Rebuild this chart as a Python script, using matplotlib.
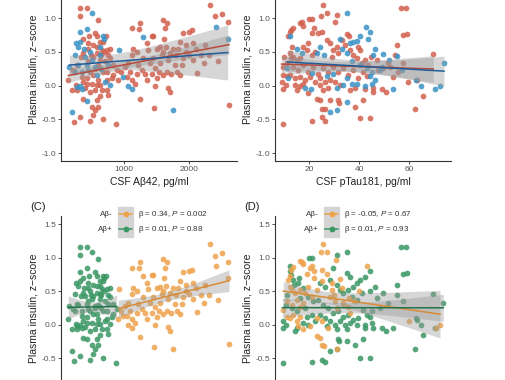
import numpy as np
import matplotlib
matplotlib.use("Agg")
import matplotlib.pyplot as plt
from matplotlib.lines import Line2D
from matplotlib.patches import Rectangle

plt.rcParams['font.family'] = ['Liberation Sans', 'DejaVu Sans']
plt.rcParams['mathtext.fontset'] = 'custom'
plt.rcParams['mathtext.it'] = 'Liberation Sans:italic'
plt.rcParams['mathtext.rm'] = 'Liberation Sans'

# ---------------- data: CSF Abeta42 panels (A, C) ----------------
ab_red_x = [323, 436, 323, 595, 2323, 2400, 2503, 2595, 2615, 2450, 2118,
            2005, 2040, 1900, 2067, 2000, 2067, 1862, 1836, 1913, 1887, 1785,
            1810, 1862, 1708, 1682, 1605, 1656, 1630, 1620, 1646, 1580, 1554,
            1656, 1682, 1708, 1462, 1451, 1426, 1349, 1374, 1451, 1400, 1477,
            1246, 1349, 1503, 1477, 1246, 1236, 1118, 1144, 1195, 1118, 1297,
            1220, 1272, 1067, 1015, 1092, 1041, 1169, 1118, 877, 887, 836, 913,
            733, 759, 682, 579, 605, 503, 554, 528, 477, 364, 400, 323, 231,
            272, 195, 262, 144, 554, 579, 467, 374, 451, 528, 579, 631, 682,
            723, 656, 733, 579, 528, 631, 708, 451, 374, 272, 221, 349, 426,
            528, 605, 503, 579, 631, 656, 426, 374, 554, 477, 631, 810, 733,
            836, 785, 682, 733, 338, 1200, 1330, 1430, 1540, 1600, 1720, 1760,
            2180, 2230, 1960, 960, 1560,
            600, 650, 700, 450, 500, 550, 480, 620, 760, 790, 1800, 2100, 2250,
            1500, 1600, 2300, 1950]
ab_red_y = [1.16, 1.16, 1.04, 0.98, 1.20, 1.03, 1.07, 0.94, -0.29, 0.37, 0.19,
            0.80, 0.82, 0.78, 0.63, 0.46, 0.38, 0.65, 0.55, 0.41, 0.31, 0.31,
            0.21, 0.16, 0.48, 0.38, 0.98, 0.93, 0.85, 0.70, 0.58, 0.46, 0.33,
            0.21, -0.04, -0.09, -0.33, 0.74, 0.74, 0.63, 0.53, 0.41, 0.33, 0.26,
            -0.19, 0.08, 0.11, -0.01, 0.93, 0.84, 0.85, 0.55, 0.50, 0.46, 0.41,
            0.31, 0.23, 0.33, 0.28, 0.21, 0.13, 0.03, 0.08, -0.57, 0.23, 0.16, 0.08,
            -0.06, -0.14, -0.49, -0.21, -0.31, -0.31, -0.36, -0.44, -0.52, -0.20,
            -0.04, -0.47, -0.54, -0.06, -0.06, 0.01, 0.08, 0.78, 0.73, 0.73, 0.69,
            0.63, 0.60, 0.58, 0.65, 0.65, 0.73, 0.53, 0.53, 0.48, 0.43, 0.38, 0.36,
            0.36, 0.48, 0.31, 0.23, 0.13, 0.11, 0.16, 0.08, 0.03, 0.01, 0.01, -0.06,
            0.03, 0.06, -0.06, -0.09, -0.16, 0.11, 0.08, 0.31, 0.41, 0.21, 0.21,
            0.43, 0.18, 0.18, 0.18, 0.21, 0.16, 0.18, 0.55, 0.45, 0.33, 0.50,
            0.20, 0.57,
            0.30, 0.45, 0.50, 0.55, 0.45, 0.25, 0.20, 0.28, 0.45, 0.55, 0.45,
            0.55, 0.60, 0.55, 0.50, 0.45, 0.60]
ab_blue_x = [2415, 2595, 1749, 1287, 928, 990, 1067, 1118, 785, 436, 195, 282,
             323, 349, 159, 503, 426, 323, 262, 297, 323, 246, 400, 426, 349,
             503, 451, 682, 692, 631, 631, 759, 579, 300, 380, 250, 470, 560,
             710, 650]
ab_blue_y = [0.87, 0.69, -0.36, 0.72, 0.53, 0.13, -0.01, -0.05, 0.01, -0.22,
             -0.39, -0.02, -0.01, -0.05, 0.28, 1.08, 0.84, 0.79, 0.63, 0.58,
             0.65, 0.46, 0.43, 0.31, 0.21, 0.38, 0.23, 0.73, 0.69, 0.58, 0.46,
             0.31, 0.16, 0.30, 0.55, 0.20, 0.50, 0.28, 0.05, 0.25]
AB42_CUTOFF = 900  # Abeta+ below this value

# ---------------- data: CSF pTau181 panel B ----------------
pt_red_x = [25.3, 24.5, 27.2, 31.2, 30.3, 56.5, 58.7, 20.0, 20.9, 16.3, 17.0,
            17.6, 13.6, 12.8, 12.3, 11.6, 22.0, 21.0, 24.9, 23.6, 34.9, 35.9,
            58.9, 57.3, 55.0, 54.3, 69.6, 57.6, 51.6, 49.6, 52.3, 46.9, 47.6,
            41.6, 42.9, 42.3, 45.3, 45.3, 48.9, 50.7, 59.6, 62.9, 65.3, 62.3,
            38.3, 40.3, 44.3, 41.6, 31.6, 32.0, 28.3, 24.9, 26.3, 24.9, 26.3,
            20.9, 9.6, 24.3, 22.9, 8.9, 9.3, 10.9, 10.7, 14.3, 14.9, 16.3, 17.6,
            19.6, 24.3, 25.6, 27.6, 13.6, 14.9, 16.3, 12.3, 13.0, 17.6, 18.9,
            19.6, 20.9, 22.3, 26.9, 28.3, 29.6, 28.9, 31.0, 33.0, 31.6, 34.3,
            36.3, 37.6, 39.0, 40.3, 39.6, 13.6, 15.6, 17.6, 19.6, 21.6, 23.6,
            25.6, 27.6, 12.3, 14.3, 16.3, 18.3, 20.3, 22.3, 24.3, 26.3, 28.3,
            29.6, 31.6, 33.6, 35.6, 37.6, 39.6, 30.3, 32.3, 36.3, 38.3, 10.9,
            9.9, 12.6, 9.6, 9.6, 42.3, 43.6, 44.6, 40.9, 53.6, 55.6]
pt_red_y = [1.20, 1.04, 1.08, 1.05, 0.95, 1.15, 1.15, 0.99, 0.99, 0.93, 0.94,
            0.89, 0.86, 0.83, 0.80, 0.73, 0.85, 0.78, 0.79, 0.78, 0.76, 0.73,
            0.76, 0.75, 0.60, 0.46, 0.47, 0.33, 0.33, 0.26, 0.28, 0.38, 0.24,
            0.21, 0.14, -0.05, -0.04, -0.10, -0.05, -0.09, 0.06, 0.08, -0.15,
            -0.35, -0.31, -0.48, -0.48, -0.21, -0.21, -0.26, -0.21, -0.34, -0.34,
            -0.46, -0.53, -0.53, -0.57, -0.21, -0.19, 0.06, -0.05, 0.14, 0.01,
            0.01, -0.06, -0.01, 0.03, -0.11, 0.01, -0.06, -0.04, 0.43, 0.38, 0.41,
            0.48, 0.58, 0.58, 0.53, 0.63, 0.46, 0.50, 0.68, 0.63, 0.53, 0.43,
            0.58, 0.68, 0.48, 0.60, 0.53, 0.46, 0.41, 0.53, 0.58, 0.28, 0.23,
            0.31, 0.21, 0.28, 0.18, 0.26, 0.21, 0.16, 0.11, 0.13, 0.08, 0.13,
            0.06, 0.11, 0.06, 0.08, 0.28, 0.21, 0.26, 0.16, 0.23, 0.12, 0.06,
            0.01, -0.06, -0.04, 0.33, 0.43, 0.41, 0.28, 0.16, 0.38, 0.31, 0.43,
            0.33, 0.13, 0.21]
pt_blue_x = [34.9, 12.3, 42.7, 44.3, 40.3, 39.0, 37.6, 55.0, 43.6, 46.3, 45.6,
             49.6, 73.9, 48.9, 48.3, 44.9, 44.3, 46.3, 42.3, 44.9, 39.2, 53.3,
             62.5, 64.5, 70.3, 72.3, 34.9, 31.2, 28.3, 30.9, 11.6, 18.3, 20.7,
             14.9, 16.9, 22.9, 24.3, 25.9, 32.3, 33.0, 34.9, 36.3, 37.0, 21.0,
             26.9, 29.6, 34.9, 36.9, 33.6, 11.2, 40.3, 42.9, 52.0, 56.9]
pt_blue_y = [1.08, 0.74, 0.87, 0.80, 0.73, 0.67, 0.65, 0.44, 0.69, 0.55, 0.46,
             0.47, 0.33, 0.28, 0.23, 0.21, 0.14, 0.09, 0.00, 0.03, 0.03, -0.05,
             0.08, 0.00, -0.05, 0.00, -0.24, -0.36, -0.39, -0.04, 0.11, -0.04,
             -0.05, 0.55, 0.48, 0.48, 0.58, 0.46, 0.69, 0.54, 0.48, 0.63, 0.36,
             0.19, 0.14, 0.17, 0.11, 0.03, 0.01, 0.26, 0.31, 0.26, 0.38, 0.23]

# ---------------- data: CSF pTau181 panel D (by amyloid status) ----------------
pt_neg_x = [25.3, 24.5, 27.2, 30.7, 16.3, 17.0, 17.6, 20.9, 20.3, 13.6, 12.8,
            22.0, 24.9, 12.3, 11.6, 32.3, 42.9, 12.3, 13.0, 14.3, 16.3, 18.3,
            19.6, 20.9, 22.9, 10.9, 13.0, 14.9, 16.3, 17.6, 9.6, 10.9, 12.3,
            13.6, 14.9, 16.3, 15.6, 17.6, 22.9, 24.9, 22.9, 24.3, 24.9, 25.9,
            31.2, 33.6, 35.6, 36.3, 28.3, 28.9, 30.3, 60.0, 70.7, 72.3, 27.6,
            20.3,
            30.0, 33.0, 36.0, 38.0, 40.0, 34.0, 29.0, 31.0, 27.0, 25.0, 22.0,
            19.0]
pt_neg_y = [1.21, 1.09, 1.09, 0.96, 0.95, 0.93, 0.90, 0.88, 0.85, 0.86, 0.82,
            0.80, 0.81, 0.73, 0.67, 0.68, 0.87, 0.57, 0.52, 0.47, 0.52, 0.47,
            0.57, 0.42, 0.52, 0.35, 0.30, 0.37, 0.27, 0.32, 0.22, 0.12, 0.10,
            0.15, 0.05, 0.12, -0.02, -0.07, 0.10, 0.05, -0.17, -0.20, -0.30,
            -0.32, -0.36, 0.32, 0.27, 0.17, 0.42, 0.52, 0.35, 0.05, -0.05, 0.00,
            -0.05, -0.02,
            0.45, 0.55, 0.40, 0.35, 0.50, 0.30, 0.62, 0.25, 0.75, 0.65, 0.70,
            0.75]
pt_pos_x = [34.9, 56.5, 58.7, 31.2, 29.3, 42.3, 44.3, 34.9, 36.3, 40.3, 39.0,
            37.6, 44.3, 46.3, 55.0, 55.0, 58.9, 57.3, 69.6, 73.6, 49.6, 51.6,
            57.6, 46.9, 48.3, 44.9, 44.3, 41.6, 42.9, 42.3, 44.9, 45.3, 42.3,
            48.9, 50.7, 53.3, 62.9, 62.5, 64.5, 65.3, 62.3, 70.3, 38.3, 41.6,
            40.3, 44.3, 34.9, 31.2, 28.3, 31.6, 32.0, 24.9, 26.3, 20.9, 9.6,
            9.3, 9.3, 10.7, 14.3, 14.9, 17.6, 19.6, 12.3, 24.3, 26.3, 28.3,
            30.9, 32.3, 33.6, 35.6, 36.9, 39.0, 41.0, 23.6, 25.6, 27.6, 29.6,
            31.6, 33.6, 35.6, 37.6, 39.6, 36.3, 34.3, 32.3, 30.3, 28.3, 26.3,
            24.3, 22.3, 26.9, 30.9, 34.9, 39.0, 13.6, 15.6, 17.6, 19.6, 21.6,
            16.3, 18.3, 13.0, 14.9, 18.9, 20.9,
            20.0, 20.9, 12.3, 12.8, 14.0, 16.0, 11.0, 10.5]
pt_pos_y = [1.09, 1.16, 1.16, 1.04, 0.85, 0.71, 0.80, 0.77, 0.71, 0.67, 0.62,
            0.57, 0.50, 0.57, 0.60, 0.45, 0.77, 0.75, 0.46, 0.32, 0.47, 0.32,
            0.35, 0.40, 0.25, 0.20, 0.12, 0.22, 0.15, 0.00, 0.02, -0.05, -0.05,
            -0.05, -0.10, -0.05, 0.07, 0.10, 0.00, -0.15, -0.36, -0.05, -0.30,
            -0.22, -0.50, -0.50, -0.25, -0.37, -0.40, -0.22, -0.25, -0.53, -0.55,
            -0.55, -0.57, 0.05, -0.05, 0.00, -0.10, -0.05, 0.02, 0.00, 0.80,
            0.62, 0.57, 0.67, 0.60, 0.52, 0.47, 0.52, 0.42, 0.37, 0.47, 0.37,
            0.30, 0.25, 0.17, 0.20, 0.12, 0.15, 0.07, 0.10, 0.02, 0.00, 0.05,
            0.00, 0.05, 0.10, 0.15, 0.05, -0.02, -0.07, -0.07, 0.00, 0.67, 0.62,
            0.55, 0.42, 0.35, 0.40, 0.25, 0.25, 0.20, 0.12, 0.15,
            0.99, 0.99, 0.87, 0.74, 0.60, 0.70, 0.45, 0.30]

# ---------------- text ----------------
y_label = "Plasma insulin, z\u2212score"
x_label_ab = "CSF A\u03b242, pg/ml"
x_label_pt = "CSF pTau181, pg/ml"
status_labels = ["A\u03b2-", "A\u03b2+"]
stats_c = [r"β = 0.34, $\mathit{P}$ = 0.002", r"β = 0.01, $\mathit{P}$ = 0.88"]
stats_d = [r"β = -0.05, $\mathit{P}$ = 0.67", r"β = 0.01, $\mathit{P}$ = 0.93"]
y_ticks_top = [-1.0, -0.5, 0.0, 0.5, 1.0]
y_ticks_bottom = [-0.5, 0.0, 0.5, 1.0, 1.5]

RED, BLUE = "#d2604e", "#3a93c6"
RED_L, BLUE_L = "#b84a3c", "#1f5c99"
ORANGE, GREEN = "#eea24c", "#3a9764"
ORANGE_L, GREEN_L = "#d98b36", "#23744a"

W, H = 505, 380
fig = plt.figure(figsize=(W / 100, H / 100), dpi=100)


def px_axes(left, right, top, bottom):
    return fig.add_axes([left / W, 1 - bottom / H, (right - left) / W, (bottom - top) / H])


def style(ax, xlim, xticks, yticks, xlabels=True):
    ax.set_xlim(*xlim)
    ax.set_ylim(-1.12, 1.62)
    ax.set_xticks(xticks)
    if not xlabels:
        ax.set_xticklabels([])
    ax.set_yticks(yticks)
    ax.set_yticklabels([f"{t:.1f}" for t in yticks])
    for s in ("top", "right"):
        ax.spines[s].set_visible(False)
    for s in ("left", "bottom"):
        ax.spines[s].set_color("#333333")
        ax.spines[s].set_linewidth(0.8)
    ax.tick_params(length=2, width=0.6, color="#333333", labelsize=6,
                   labelcolor="#555555", pad=1.5)
    ax.set_ylabel(y_label, fontsize=7.5, color="#222222", labelpad=2)


def scatter(ax, x, y, c):
    ax.scatter(x, y, s=17, color=c, alpha=0.85, linewidths=0, zorder=2)


def fit(ax, x, y, c):
    x = np.asarray(x, float)
    y = np.asarray(y, float)
    b, a = np.polyfit(x, y, 1)
    xs = np.linspace(x.min(), x.max(), 80)
    yh = a + b * xs
    n = len(x)
    s = np.sqrt(np.sum((y - (a + b * x)) ** 2) / (n - 2))
    se = s * np.sqrt(1 / n + (xs - x.mean()) ** 2 / np.sum((x - x.mean()) ** 2))
    ax.fill_between(xs, yh - 1.98 * se, yh + 1.98 * se, color="#999999",
                    alpha=0.4, linewidth=0, zorder=3)
    ax.plot(xs, yh, color=c, lw=1.1, zorder=4)


def legend(ax, stats, x0):
    ax.add_patch(Rectangle((x0, 0.885), 0.085, 0.165, transform=ax.transAxes,
                           color="#d4d4d4", clip_on=False, zorder=5))
    for (lab, st, col, yy) in zip(status_labels, stats, [ORANGE, GREEN], [1.01, 0.93]):
        ax.add_line(Line2D([x0 + 0.005, x0 + 0.08], [yy, yy], transform=ax.transAxes,
                           color=col, lw=1.1, zorder=6, clip_on=False))
        ax.add_line(Line2D([x0 + 0.0425], [yy], transform=ax.transAxes, marker="o",
                           ms=4.2, color=col, mew=0, zorder=6, clip_on=False))
        ax.text(x0 - 0.03, yy, lab, transform=ax.transAxes, ha="right", va="center",
                fontsize=5.8, color="#333333", zorder=6)
        ax.text(x0 + 0.11, yy, st, transform=ax.transAxes, ha="left", va="center",
                fontsize=5.8, color="#333333", zorder=6)


# Panel A
axA = px_axes(61, 237, -23.5, 161.2)
style(axA, (31, 2738), [1000, 2000], y_ticks_top)
scatter(axA, ab_red_x, ab_red_y, RED)
scatter(axA, ab_blue_x, ab_blue_y, BLUE)
fit(axA, ab_red_x, ab_red_y, RED_L)
fit(axA, ab_blue_x, ab_blue_y, BLUE_L)
axA.set_xlabel(x_label_ab, fontsize=7.5, color="#222222", labelpad=3)

# Panel B
axB = px_axes(275, 451, -23.5, 161.2)
style(axB, (6.3, 76.7), [20, 40, 60], y_ticks_top)
scatter(axB, pt_red_x, pt_red_y, RED)
scatter(axB, pt_blue_x, pt_blue_y, BLUE)
fit(axB, pt_red_x, pt_red_y, RED_L)
fit(axB, pt_blue_x, pt_blue_y, BLUE_L)
axB.set_xlabel(x_label_pt, fontsize=7.5, color="#222222", labelpad=3)

# Panel C
all_ab_x = np.array(ab_red_x + ab_blue_x, float)
all_ab_y = np.array(ab_red_y + ab_blue_y, float)
pos = all_ab_x < AB42_CUTOFF
axC = px_axes(61, 237, 216.2, 399.7)
style(axC, (31, 2738), [1000, 2000], y_ticks_bottom, xlabels=False)
scatter(axC, all_ab_x[pos], all_ab_y[pos], GREEN)
scatter(axC, all_ab_x[~pos], all_ab_y[~pos], ORANGE)
fit(axC, all_ab_x[pos], all_ab_y[pos], GREEN_L)
fit(axC, all_ab_x[~pos], all_ab_y[~pos], ORANGE_L)
legend(axC, stats_c, 0.325)
fig.text(30 / W, 1 - 207 / H, "(C)", fontsize=8, color="#222222", va="center")

# Panel D
axD = px_axes(275, 451, 216.2, 399.7)
style(axD, (6.3, 76.7), [20, 40, 60], y_ticks_bottom, xlabels=False)
scatter(axD, pt_pos_x, pt_pos_y, GREEN)
scatter(axD, pt_neg_x, pt_neg_y, ORANGE)
fit(axD, pt_neg_x, pt_neg_y, ORANGE_L)
fit(axD, pt_pos_x, pt_pos_y, GREEN_L)
legend(axD, stats_d, 0.28)
fig.text(244 / W, 1 - 207 / H, "(D)", fontsize=8, color="#222222", va="center")

fig.savefig("out.png", dpi=100)
